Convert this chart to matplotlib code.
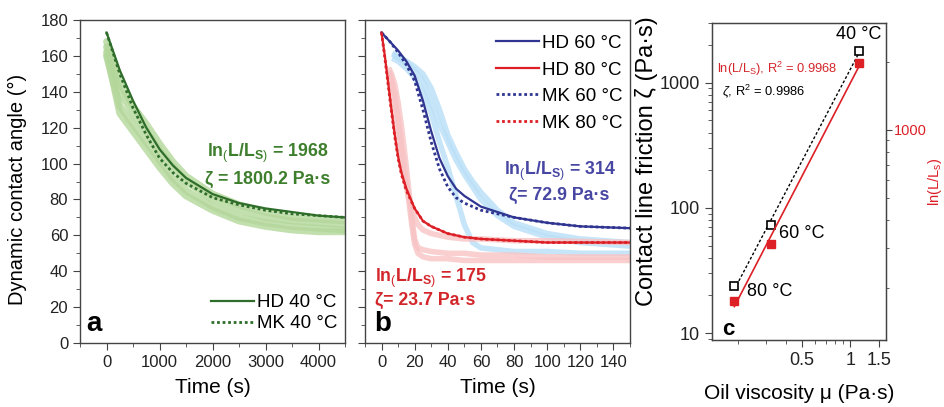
import numpy as np
import matplotlib
matplotlib.use("Agg")
import matplotlib.pyplot as plt
from matplotlib.ticker import (MultipleLocator, LogLocator, FixedLocator, NullFormatter,
                               FixedFormatter, FuncFormatter)

plt.rcParams['font.family'] = ['Liberation Sans', 'DejaVu Sans']
plt.rcParams['mathtext.fontset'] = 'custom'
plt.rcParams['mathtext.rm'] = 'Liberation Sans'
plt.rcParams['mathtext.it'] = 'Liberation Sans:italic'
plt.rcParams['mathtext.bf'] = 'Liberation Sans:bold'

# ---- panel a: 40 C ----
t_a = [0, 250, 500, 750, 1000, 1250, 1500, 2000, 2500, 3000, 3500, 4000, 4500]
hd40 = [173, 152, 135, 120, 108, 99, 92, 83, 78, 75, 73, 71, 70]
mk40 = [173, 150, 131, 116, 103, 95, 89, 81, 77, 74, 72, 71, 70]
exp40 = [
    [160, 132, 122, 112, 102, 92, 85, 76, 70, 67, 65, 64, 63],
    [165, 140, 128, 118, 107, 98, 90, 80, 74, 70, 68, 67, 66],
    [168, 145, 132, 122, 111, 101, 93, 83, 77, 73, 70, 69, 68],
    [162, 128, 118, 108, 98, 89, 82, 74, 68, 65, 63, 62, 62],
]

# ---- panel b: 60 C and 80 C ----
t_b60 = [0, 5, 10, 15, 20, 25, 30, 35, 40, 45, 50, 60, 70, 80, 100, 120, 150]
hd60 = [173, 168, 163, 157, 149, 135, 118, 103, 93, 86, 82, 76, 73, 70, 67, 65, 64]
mk60 = [173, 168, 162, 155, 146, 130, 112, 97, 87, 81, 78, 74, 72, 70, 67, 65, 64]
t_e60 = [8, 10, 15, 20, 25, 30, 35, 40, 45, 50, 55, 60, 70, 80, 100, 120, 150]
exp60 = [
    [160, 159, 156, 152, 146, 134, 122, 112, 102, 94, 87, 80, 71, 65, 59, 56, 54],
    [158, 157, 153, 148, 140, 128, 112, 98, 82, 66, 56, 53, 52, 51, 51, 50, 50],
    [161, 160, 157, 154, 150, 142, 130, 116, 106, 97, 90, 84, 74, 67, 61, 58, 56],
]
t_b80 = [0, 2, 4, 6, 8, 10, 12, 15, 20, 25, 30, 40, 50, 60, 80, 100, 150]
hd80 = [173, 160, 145, 130, 116, 104, 95, 86, 75, 68, 65, 61, 59, 58, 57, 56, 56]
mk80 = [173, 159, 144, 129, 115, 103, 94, 85, 75, 68, 65, 61, 59, 58, 57, 56, 56]
t_p = [5, 6, 8, 10, 12, 15, 18, 20, 22, 25, 30, 40, 50, 60, 80, 100, 150]
exp80 = [
    [152, 150, 144, 134, 121, 98, 72, 58, 53, 52, 51, 50, 50, 49, 49, 48, 48],
    [148, 143, 128, 113, 100, 87, 76, 70, 66, 63, 61, 59, 58, 58, 57, 57, 56],
    [150, 147, 138, 125, 110, 90, 68, 55, 50, 48, 47, 47, 46, 46, 46, 46, 46],
]

# ---- panel c ----
mu = [0.19, 0.32, 1.135]
zeta = [23.7, 72.9, 1800.2]
lnL = [175, 314, 1968]
temps = ['80 \u00b0C', '60 \u00b0C', '40 \u00b0C']

green = '#2f6e2a'
green_txt = '#3d7f2c'
light_green = '#b3d79a'
blue = '#2f3590'
blue_txt = '#4747a3'
light_blue = '#b9dff7'
red = '#dd1f26'
red_txt = '#d3262b'
pink = '#f8c3c4'
spine_c = '#444444'

fig = plt.figure(figsize=(9.45, 4.07), dpi=100)
ax_a = fig.add_axes([0.0847, 0.1572, 0.2804, 0.7937])
ax_b = fig.add_axes([0.3862, 0.1572, 0.2804, 0.7937])
ax_c = fig.add_axes([0.7534, 0.1646, 0.1841, 0.7789])


def style(ax, size=12):
    for s in ax.spines.values():
        s.set_color(spine_c)
        s.set_linewidth(1.0)
    ax.tick_params(which='both', direction='out', color=spine_c, labelsize=size,
                   labelcolor='#222222')
    ax.tick_params(which='major', length=5)
    ax.tick_params(which='minor', length=3)


def lntext(v):
    return r'ln$_{(}$L/L$_{\mathbf{S})}$ = ' + str(v)


# panel a
for e in exp40:
    ax_a.plot(t_a, e, color=light_green, lw=5, alpha=0.8, solid_capstyle='round')
ax_a.plot(t_a, hd40, color=green, lw=1.6, label='HD 40 \u00b0C')
ax_a.plot(t_a, mk40, color=green, lw=2.0, ls=(0, (1, 1)), label='MK 40 \u00b0C')
ax_a.set_xlim(-500, 4500)
ax_a.set_ylim(0, 180)
ax_a.xaxis.set_major_locator(MultipleLocator(1000))
ax_a.xaxis.set_minor_locator(MultipleLocator(500))
ax_a.yaxis.set_major_locator(MultipleLocator(20))
ax_a.yaxis.set_minor_locator(MultipleLocator(10))
ax_a.set_xlabel('Time (s)', fontsize=15, labelpad=6)
ax_a.set_ylabel('Dynamic contact angle (\u00b0)', fontsize=14.5)
ax_a.yaxis.set_label_coords(-0.2, 0.474)
ax_a.legend(loc='lower right', frameon=False, fontsize=13.5, handlelength=2.3,
            handletextpad=0.15, borderaxespad=0.0, labelspacing=0.2,
            bbox_to_anchor=(1.0, 0.01))
ax_a.text(0.936, 0.588, lntext(1968), transform=ax_a.transAxes,
          ha='right', va='center', fontsize=12.8, fontweight='bold', color=green_txt)
ax_a.text(0.943, 0.505, '\u03b6 = 1800.2 Pa\u00b7s', transform=ax_a.transAxes,
          ha='right', va='center', fontsize=12.8, fontweight='bold', color=green_txt)
ax_a.text(0.025, 0.02, 'a', transform=ax_a.transAxes, fontsize=20,
          fontweight='bold', ha='left', va='bottom')
style(ax_a)

# panel b
for e in exp60:
    ax_b.plot(t_e60, e, color=light_blue, lw=4, alpha=0.8)
for e in exp80:
    ax_b.plot(t_p, e, color=pink, lw=4, alpha=0.8)
ax_b.plot(t_b60, hd60, color=blue, lw=1.6, label='HD 60 \u00b0C')
ax_b.plot(t_b80, hd80, color=red, lw=1.6, label='HD 80 \u00b0C')
ax_b.plot(t_b60, mk60, color=blue, lw=2.0, ls=(0, (1, 1)), label='MK 60 \u00b0C')
ax_b.plot(t_b80, mk80, color=red, lw=2.0, ls=(0, (1, 1)), label='MK 80 \u00b0C')
ax_b.set_xlim(-10, 150)
ax_b.set_ylim(0, 180)
ax_b.xaxis.set_major_locator(MultipleLocator(20))
ax_b.xaxis.set_minor_locator(MultipleLocator(10))
ax_b.yaxis.set_major_locator(MultipleLocator(20))
ax_b.yaxis.set_minor_locator(MultipleLocator(10))
ax_b.set_yticklabels([])
ax_b.set_xlabel('Time (s)', fontsize=15, labelpad=6)
ax_b.legend(loc='upper right', frameon=False, fontsize=13.5, handlelength=2.3,
            handletextpad=0.15, borderaxespad=0.0, labelspacing=0.5,
            bbox_to_anchor=(1.0, 0.977))
ax_b.text(0.947, 0.532, lntext(314), transform=ax_b.transAxes,
          ha='right', va='center', fontsize=12.8, fontweight='bold', color=blue_txt)
ax_b.text(0.921, 0.458, '\u03b6= 72.9 Pa\u00b7s', transform=ax_b.transAxes,
          ha='right', va='center', fontsize=12.8, fontweight='bold', color=blue_txt)
ax_b.text(0.038, 0.201, lntext(175), transform=ax_b.transAxes,
          ha='left', va='center', fontsize=12.8, fontweight='bold', color=red_txt)
ax_b.text(0.038, 0.133, '\u03b6= 23.7 Pa\u00b7s', transform=ax_b.transAxes,
          ha='left', va='center', fontsize=12.8, fontweight='bold', color=red_txt)
ax_b.text(0.035, 0.02, 'b', transform=ax_b.transAxes, fontsize=20,
          fontweight='bold', ha='left', va='bottom')
style(ax_b)

# panel c
plain = FuncFormatter(lambda v, _: f'{v:g}')
ax_c.set_xscale('log')
ax_c.set_yscale('log')
ax_c.set_xlim(0.138, 1.66)
ax_c.set_ylim(8.8, 3000)
lx = np.log10(mu)
pz = np.polyfit(lx, np.log10(zeta), 1)
xx = np.array([lx[0], lx[-1]])
ax_c.plot(10 ** xx, 10 ** np.polyval(pz, xx), color='black', lw=1, ls=(0, (2, 1.5)))
ax_c.plot(mu, zeta, ls='none', marker='s', mfc='white', mec='black', ms=6, mew=1.2)
ax_c.xaxis.set_major_locator(FixedLocator([0.5, 1, 1.5]))
ax_c.xaxis.set_major_formatter(FixedFormatter(['0.5', '1', '1.5']))
ax_c.xaxis.set_minor_locator(LogLocator(subs=np.arange(1, 10) * 1.0))
ax_c.xaxis.set_minor_formatter(NullFormatter())
ax_c.yaxis.set_major_locator(LogLocator(numticks=10))
ax_c.yaxis.set_major_formatter(plain)
ax_c.yaxis.set_minor_locator(LogLocator(subs=np.arange(2, 10) * 1.0, numticks=20))
ax_c.yaxis.set_minor_formatter(NullFormatter())
ax_c.set_xlabel('Oil viscosity \u03bc (Pa\u00b7s)', fontsize=15, labelpad=11)
ax_c.set_ylabel('Contact line friction \u03b6 (Pa\u00b7s)', fontsize=17)
ax_c.yaxis.set_label_coords(-0.31, 0.565)
style(ax_c, size=13)

ax_r = ax_c.twinx()
ax_r.set_yscale('log')
ax_r.set_ylim(118, 2970)
pl = np.polyfit(lx, np.log10(lnL), 1)
ax_r.plot(10 ** xx, 10 ** np.polyval(pl, xx), color=red, lw=1.2)
ax_r.plot(mu, lnL, ls='none', marker='s', color=red, ms=6)
ax_r.yaxis.set_major_locator(LogLocator(numticks=10))
ax_r.yaxis.set_major_formatter(plain)
ax_r.yaxis.set_minor_locator(LogLocator(subs=np.arange(2, 10) * 1.0, numticks=20))
ax_r.yaxis.set_minor_formatter(NullFormatter())
ax_r.tick_params(which='both', direction='out', color=spine_c, labelsize=10.5,
                 labelcolor=red, pad=1.5)
ax_r.tick_params(which='major', length=4)
ax_r.tick_params(which='minor', length=2.5)
ax_r.set_ylabel(r'ln(L/L$_\mathrm{s}$)', fontsize=10.5, color=red, labelpad=0)
for s in ax_r.spines.values():
    s.set_color(spine_c)

offs = [(9, -4), (6, -6), (16, 12)]
for m, z, lab, o in zip(mu, zeta, temps, offs):
    ha = 'right' if lab.startswith('40') else 'left'
    ax_c.annotate(lab, (m, z), xytext=o, textcoords='offset points',
                  fontsize=13, ha=ha, va='center')
ax_c.text(0.03, 0.855, r'ln(L/L$_\mathrm{S}$), R$^2$ = 0.9968', transform=ax_c.transAxes,
          fontsize=9.3, color=red_txt, ha='left', va='center')
ax_c.text(0.06, 0.785, r'$\zeta$, R$^2$ = 0.9986', transform=ax_c.transAxes,
          fontsize=9.3, color='black', ha='left', va='center')
ax_c.text(0.06, 0.0, 'c', transform=ax_c.transAxes, fontsize=16,
          fontweight='bold', ha='left', va='bottom')

fig.savefig('out.png', dpi=100)
